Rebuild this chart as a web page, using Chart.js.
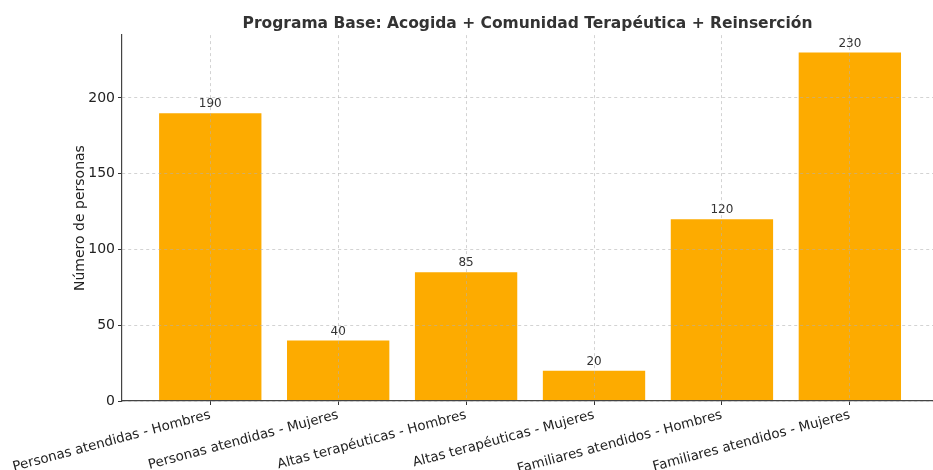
<!DOCTYPE html>
<html>
<head>
<meta charset="utf-8">
<script src="https://cdn.jsdelivr.net/npm/chart.js@4/dist/chart.umd.min.js"></script>
<style>
  html, body { margin: 0; padding: 0; background: #fff; }
  #wrap { width: 933px; height: 470px; }
</style>
</head>
<body>
<div id="wrap"><canvas id="chart"></canvas></div>
<script>
// Categories and values
const categories = [
  "Personas atendidas - Hombres",
  "Personas atendidas - Mujeres",
  "Altas terapéuticas - Hombres",
  "Altas terapéuticas - Mujeres",
  "Familiares atendidos - Hombres",
  "Familiares atendidos - Mujeres"
];
const personas = [190, 40, 85, 20, 120, 230];
const yTicks = [0, 50, 100, 150, 200];

const textColor = "#333333";
const font = "'DejaVu Sans', sans-serif";

// Value labels above each bar
const valueLabels = {
  id: "valueLabels",
  afterDatasetsDraw(chart) {
    const ctx = chart.ctx;
    const meta = chart.getDatasetMeta(0);
    ctx.save();
    ctx.font = "12px " + font;
    ctx.fillStyle = textColor;
    ctx.textAlign = "center";
    ctx.textBaseline = "bottom";
    meta.data.forEach((bar, i) => {
      ctx.fillText(String(personas[i]), bar.x, bar.y - 3);
    });
    ctx.restore();
  }
};

// grid drawn above the bars, like the original
const gridStyle = {
  offset: false,
  z: 1,
  color: "rgba(176,176,176,0.7)",
  lineWidth: 0.8,
  tickColor: "#333",
  tickLength: 4,
  tickWidth: 1,
  tickBorderDash: []
};
const borderStyle = { display: true, z: 1, color: "#444", width: 1.2, dash: [3, 3] };

new Chart(document.getElementById("chart"), {
  type: "bar",
  plugins: [valueLabels],
  data: {
    datasets: [{
      data: personas.map((v, i) => ({ x: i, y: v })),
      backgroundColor: "#fdab00",
      borderWidth: 0,
      categoryPercentage: 0.8,
      barPercentage: 1.0
    }]
  },
  options: {
    responsive: true,
    maintainAspectRatio: false,
    animation: false,
    layout: { padding: 0 },
    plugins: {
      legend: { display: false },
      tooltip: { enabled: false },
      title: {
        display: true,
        fullSize: false,
        text: "Programa Base: Acogida + Comunidad Terapéutica + Reinserción",
        color: textColor,
        font: { family: font, size: 15.5, weight: "bold" },
        padding: { top: 15, bottom: 1.5 }
      }
    },
    scales: {
      x: {
        type: "linear",
        offset: false,
        min: -0.69,
        max: 5.65,
        z: 1,
        afterBuildTicks: (scale) => {
          scale.ticks = categories.map((_, i) => ({ value: i }));
        },
        afterFit: (scale) => {
          scale.height = 69;
          scale.paddingLeft = 0;
          scale.paddingRight = 0;
        },
        ticks: {
          autoSkip: false,
          maxRotation: 15,
          minRotation: 15,
          color: "#222",
          font: { family: font, size: 13.4 },
          padding: 2,
          callback: (v) => categories[Math.round(v)]
        },
        grid: gridStyle,
        border: borderStyle
      },
      y: {
        min: 0,
        max: 241.5,
        z: 1,
        afterBuildTicks: (scale) => {
          scale.ticks = yTicks.map((v) => ({ value: v }));
        },
        afterFit: (scale) => {
          scale.width = 122;
          scale.paddingTop = 0;
          scale.paddingBottom = 0;
        },
        ticks: {
          color: "#222",
          font: { family: font, size: 14 },
          padding: 3
        },
        grid: gridStyle,
        border: borderStyle,
        title: {
          display: true,
          text: "Número de personas",
          color: "#222",
          font: { family: font, size: 14 },
          padding: { top: 72, bottom: 4 }
        }
      }
    }
  }
});
</script>
</body>
</html>
